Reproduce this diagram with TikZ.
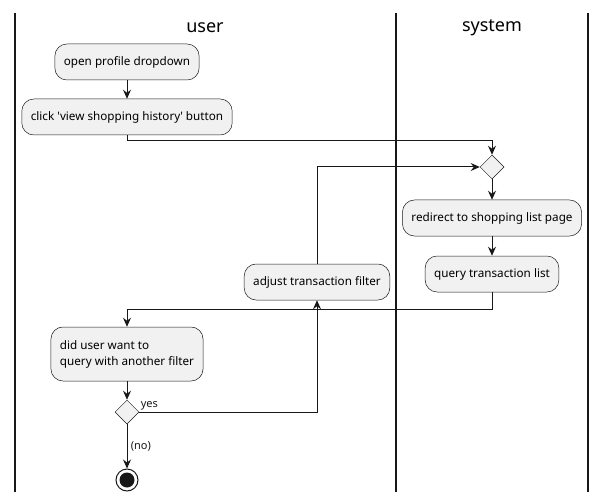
\documentclass[tikz,border=0pt]{standalone}
\usepackage{fontspec}
\setmainfont{Noto Sans}
\usepackage{xcolor}
\usetikzlibrary{arrows.meta, shapes.geometric, positioning}
\definecolor{boxgray}{HTML}{F1F1F1}
\definecolor{ink}{HTML}{181818}
\tikzset{> = { Stealth[length = 9bp, width = 8bp, inset = 3bp] }}
\tikzset{
	act/.style = {draw = ink, line width = 0.5bp, fill = boxgray, rounded corners = 12bp, minimum height = 36bp, inner xsep = 9bp, font = \fontsize{11.7bp}{16bp}\selectfont},
	merge/.style = {draw = ink, line width = 0.5bp, fill = boxgray, diamond, aspect = 1, minimum size = 24bp, inner sep = 0pt},
	lane/.style = {line width = 1.3bp, ink},
	flow/.style = {->, line width = 1bp, ink},
	title/.style = {font = \fontsize{18bp}{22bp}\selectfont}
}

\begin{document}
\begin{tikzpicture}[x = 1bp, y = -1bp]
		\useasboundingbox (0, 0) rectangle (605, 501);
		% swimlanes
		\draw [lane] (15, 13) -- (15, 492);
		\draw [lane] (396, 13) -- (396, 492);
		\draw [lane] (588, 13) -- (588, 492);
		\node [title] (userlane) at (205, 28) {user};
		\node [title] (syslane) at (492, 28) {system};

		\node [act] (open) at (127, 62) {open profile dropdown};
		\node [act] (click) at (127, 117) {click \textquotesingle view shopping history\textquotesingle{} button};
		\node [merge] (loop) at (492, 167) {};
		\node [act] (redirect) at (492, 218) {redirect to shopping list page};
		\node [act] (query) at (492, 274) {query transaction list};
		\node [act] (adjust) at (317, 282) {adjust transaction filter};
		\node [act, minimum height = 54bp, align = left] (ask) at (127, 354) {did user want to\\query with another filter};
		\node [merge] (again) at (127, 412) {};
		\node [circle, draw = ink, line width = 1bp, minimum size = 22bp, inner sep = 0pt,
			path picture = {\fill [ink] (path picture bounding box.center) circle (7.5bp);}] (stop) at (127, 480) {};

		\draw [flow] (open) -- (click);
		\draw [flow] (click.south) -- ++(0, 5) -| (loop.north);
		\draw [flow] (loop) -- (redirect);
		\draw [flow] (redirect) -- (query);
		\draw [flow] (query.south) -- ++(0, 17) -| (ask.north);
		\draw [flow] (adjust.north) |- (loop.west);
		\draw [flow] (ask) -- (again);
		\draw [flow] (again.east) node [above right, inner sep = 1bp, font = \fontsize{11bp}{13bp}\selectfont] {yes} -| (adjust.south);
		\draw [flow] (again) -- node [right, font = \fontsize{11bp}{13bp}\selectfont] {(no)} (stop);
	\end{tikzpicture}
\end{document}
